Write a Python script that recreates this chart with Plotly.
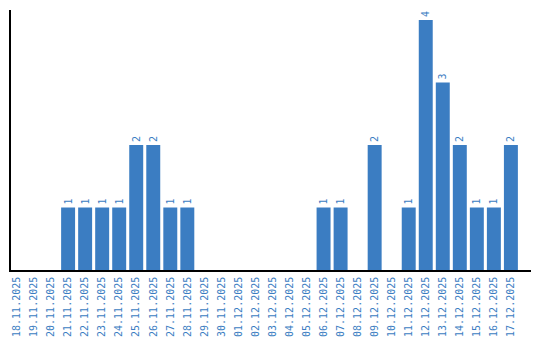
import plotly.graph_objects as go

dates = ["18.11.2025", "19.11.2025", "20.11.2025", "21.11.2025", "22.11.2025",
         "23.11.2025", "24.11.2025", "25.11.2025", "26.11.2025", "27.11.2025",
         "28.11.2025", "29.11.2025", "30.11.2025", "01.12.2025", "02.12.2025",
         "03.12.2025", "04.12.2025", "05.12.2025", "06.12.2025", "07.12.2025",
         "08.12.2025", "09.12.2025", "10.12.2025", "11.12.2025", "12.12.2025",
         "13.12.2025", "14.12.2025", "15.12.2025", "16.12.2025", "17.12.2025"]
counts = [0, 0, 0, 1, 1, 1, 1, 2, 2, 1,
          1, 0, 0, 0, 0, 0, 0, 0, 1, 1,
          0, 2, 0, 1, 4, 3, 2, 1, 1, 2]

color = "#3b7dc2"
labels = [str(v) if v > 0 else "" for v in counts]

fig = go.Figure(go.Bar(
    x=dates, y=counts, text=labels, textposition="outside", textangle=-90,
    textfont=dict(family="DejaVu Sans Mono", size=10, color=color),
    marker=dict(color=color, line=dict(width=0)),
    cliponaxis=False, hoverinfo="skip",
))

fig.update_layout(
    width=540, height=340,
    margin=dict(l=11, r=9, t=10, b=70, autoexpand=False),
    paper_bgcolor="white", plot_bgcolor="white",
    bargap=0.18, showlegend=False,
    font=dict(family="DejaVu Sans Mono", size=10, color=color),
)
fig.update_xaxes(
    type="category", range=[-0.353, 30.18], tickangle=-90, automargin=False,
    showline=True, linecolor="black", linewidth=1.5, showgrid=False,
    ticks="", ticklabelstandoff=1,
    tickfont=dict(family="DejaVu Sans Mono", size=10, color=color),
    zeroline=False,
)
fig.update_yaxes(
    range=[0, 4.16], showticklabels=False, showgrid=False, ticks="",
    automargin=False,
    showline=True, linecolor="black", linewidth=1.5, zeroline=False,
)

fig.write_html("out.html")
